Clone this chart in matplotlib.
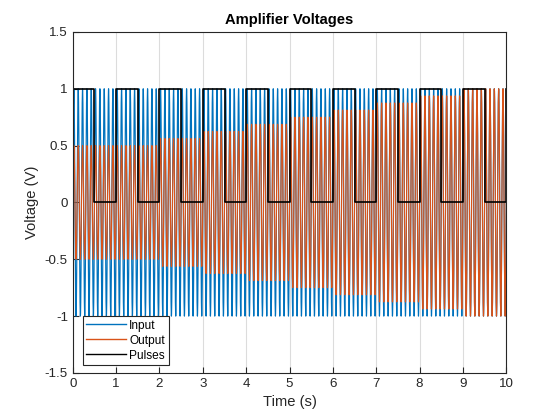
import numpy as np
import matplotlib.pyplot as plt

plt.rcParams['font.family'] = ['Liberation Sans', 'DejaVu Sans']

# Señales del amplificador
t_final = 10          # duración en segundos
f_in = 10             # frecuencia de la entrada (Hz)
amp_in = 1.0          # amplitud de la entrada (V)
# ganancia del amplificador en cada segundo (0-1, 1-2, ..., 9-10)
gain = [0.5, 0.5, 0.5625, 0.625, 0.6875, 0.75, 0.8125, 0.875, 0.9375, 1.0]
# pulsos: flancos de subida y bajada (s)
pulse_on = [0, 1, 2, 3, 4, 5, 6, 7, 8, 9, 10]
pulse_off = [0.5, 1.5, 2.5, 3.5, 4.5, 5.5, 6.5, 7.5, 8.5, 9.5]

t = np.linspace(0, t_final, 20001)
x_in = amp_in * np.sin(2*np.pi*f_in*t)
g = np.array(gain)[np.minimum((t // 1).astype(int), len(gain)-1)]
x_out = g * x_in

# Onda de pulsos a partir de los flancos
pt, pv = [], []
for i, on in enumerate(pulse_on):
    if i < len(pulse_off):
        pt += [on, on, pulse_off[i], pulse_off[i]]
        pv += [0 if i > 0 else 1, 1, 1, 0]
    else:
        pt += [on, on]
        pv += [0, 1]
pt, pv = pt[1:], pv[1:]

fig = plt.figure(figsize=(5.6, 4.2), dpi=100)
ax = fig.add_axes([0.13, 0.112, 0.774, 0.812])
ax.plot(t, x_in, color='#0072BD', lw=0.85, label='Input')
ax.plot(t, x_out, color='#D95319', lw=0.85, label='Output')
ax.plot(pt, pv, color='black', lw=1.2, label='Pulses')

ax.set_xlim(0, 10)
ax.set_ylim(-1.5, 1.5)
ax.set_xticks(range(0, 11))
ax.set_yticks([-1.5, -1, -0.5, 0, 0.5, 1, 1.5])
ax.set_yticklabels(['-1.5', '-1', '-0.5', '0', '0.5', '1', '1.5'])
ax.grid(axis='x', color='#dcdcdc', lw=0.8)
ax.set_axisbelow(True)
ax.tick_params(direction='in', length=4, labelsize=9.6, colors='#262626',
               top=False, right=False)
for s in ax.spines.values():
    s.set_color('#262626')
    s.set_linewidth(0.8)

ax.set_title('Amplifier Voltages', fontsize=10.6, fontweight='bold', color='black')
ax.set_xlabel('Time (s)', fontsize=10.6, color='#262626')
ax.set_ylabel('Voltage (V)', fontsize=10.6, color='#262626')

leg = ax.legend(loc='lower left', bbox_to_anchor=(0.023, 0.023), borderaxespad=0,
                fancybox=False, edgecolor='#262626', framealpha=1, fontsize=8.6,
                handlelength=3.3, handletextpad=0.3, labelspacing=0.25,
                borderpad=0.3)
leg.get_frame().set_linewidth(0.8)
for line in leg.get_lines():
    line.set_linewidth(1.0)

fig.savefig('out.png', dpi=100)
